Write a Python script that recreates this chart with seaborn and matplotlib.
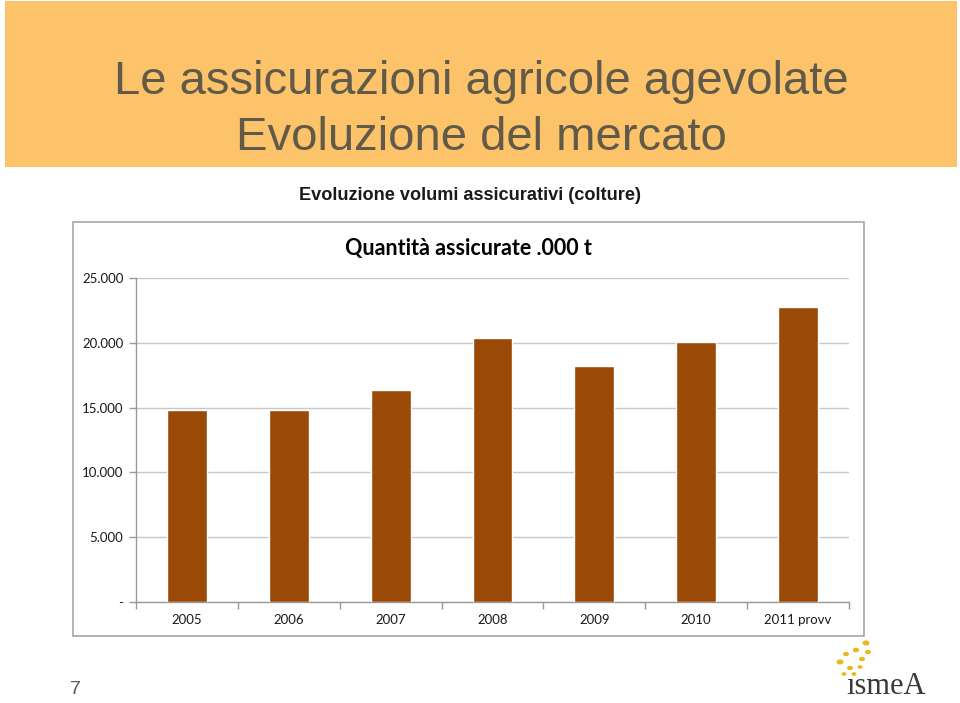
import matplotlib
matplotlib.use('Agg')
import matplotlib.pyplot as plt
import matplotlib.patches as mpatches
from matplotlib.ticker import FuncFormatter, FixedLocator
import seaborn as sns
import pandas as pd

# data
anni = ['2005', '2006', '2007', '2008', '2009', '2010', '2011 provv']
quantita = [14800, 14800, 16350, 20400, 18200, 20050, 22750]

y_ticks = [0, 5000, 10000, 15000, 20000, 25000]

df = pd.DataFrame({'anno': anni, 'quantita': quantita})

sns.set_theme(style='white')
plt.rcParams['font.family'] = ['Liberation Sans', 'DejaVu Sans']

fig = plt.figure(figsize=(9.6, 7.03), dpi=100)
fig.patch.set_facecolor('white')

# orange header band
fig.patches.append(mpatches.Rectangle((5/960, 1 - 167/703), 952/960, 166/703,
                                      transform=fig.transFigure, facecolor='#fcc36b',
                                      edgecolor='none', zorder=0))
fig.text(0.501, 0.883, 'Le assicurazioni agricole agevolate', ha='center', va='center',
         fontsize=34, color='#625a48')
fig.text(0.501, 0.803, 'Evoluzione del mercato', ha='center', va='center',
         fontsize=34, color='#625a48')
fig.text(0.49, 0.7226, 'Evoluzione volumi assicurativi (colture)', ha='center', va='center',
         fontsize=13.1, fontweight='bold', color='#1a1a1a')

# chart frame
fig.patches.append(mpatches.Rectangle((73/960, 1 - 636/703), 791/960, 414/703,
                                      transform=fig.transFigure, facecolor='white',
                                      edgecolor='#a6a6a6', linewidth=1.2, zorder=0.5))

ax = fig.add_axes([136/960, 1 - 602/703, 713/960, 324/703])
ax.set_zorder(2)
sns.barplot(data=df, x='anno', y='quantita', color='#9a4a06', width=0.39,
            saturation=1, ax=ax, zorder=3)

ax.set_ylim(0, 25000)
ax.set_xlim(-0.5, len(anni) - 0.5)
ax.yaxis.set_major_locator(FixedLocator(y_ticks))
ax.yaxis.set_major_formatter(FuncFormatter(
    lambda v, p: '-' if v == 0 else f'{int(v):,}'.replace(',', '.')))
ax.grid(axis='y', color='#c8c8c8', linewidth=1, zorder=0)
ax.set_axisbelow(True)
ax.set_xlabel('')
ax.set_ylabel('')
ax.set_facecolor('none')

for s in ['top', 'right']:
    ax.spines[s].set_visible(False)
for s in ['left', 'bottom']:
    ax.spines[s].set_color('#999999')
    ax.spines[s].set_linewidth(1)

ax.xaxis.set_minor_locator(FixedLocator([i - 0.5 for i in range(len(anni) + 1)]))
ax.tick_params(axis='x', which='major', length=0, pad=9, labelsize=9.5, colors='#1a1a1a')
ax.tick_params(axis='x', which='minor', length=5, width=1, color='#999999', direction='out',
               bottom=True)
ax.tick_params(axis='y', which='major', length=5, width=1, color='#999999', direction='out',
               left=True, labelsize=9.5, labelcolor='#1a1a1a', pad=4)
for lbl in ax.get_xticklabels() + ax.get_yticklabels():
    lbl.set_family(['Lato', 'DejaVu Sans'])

fig.text(468/960, 1 - 248/703, 'Quantità assicurate .000 t', ha='center', va='center',
         fontsize=15.5, fontweight='bold', color='#000000', family=['Lato', 'DejaVu Sans'],
         zorder=3)

# slide number
fig.text(75/960, 1 - 690/703, '7', ha='center', va='center', fontsize=14, color='#5a5a5a')

# ismea logo
fig.text(886/960, 1 - 686/703, 'ısmeA', ha='center', va='center', fontsize=22,
         color='#3a3a3a', family=['Liberation Serif', 'DejaVu Serif'])
for (px, py, r) in [(840, 662, 3.5), (850, 668, 3), (856, 650, 3.2), (862, 659, 3),
                    (846, 654, 3), (866, 643, 3.5), (854, 674, 2.5), (844, 674, 2.5),
                    (868, 652, 3), (860, 667, 2.5)]:
    fig.patches.append(mpatches.Circle((px/960, 1 - py/703), r/960, transform=fig.transFigure,
                                       facecolor='#e8b820', edgecolor='none'))

fig.savefig('out.png', dpi=100)
